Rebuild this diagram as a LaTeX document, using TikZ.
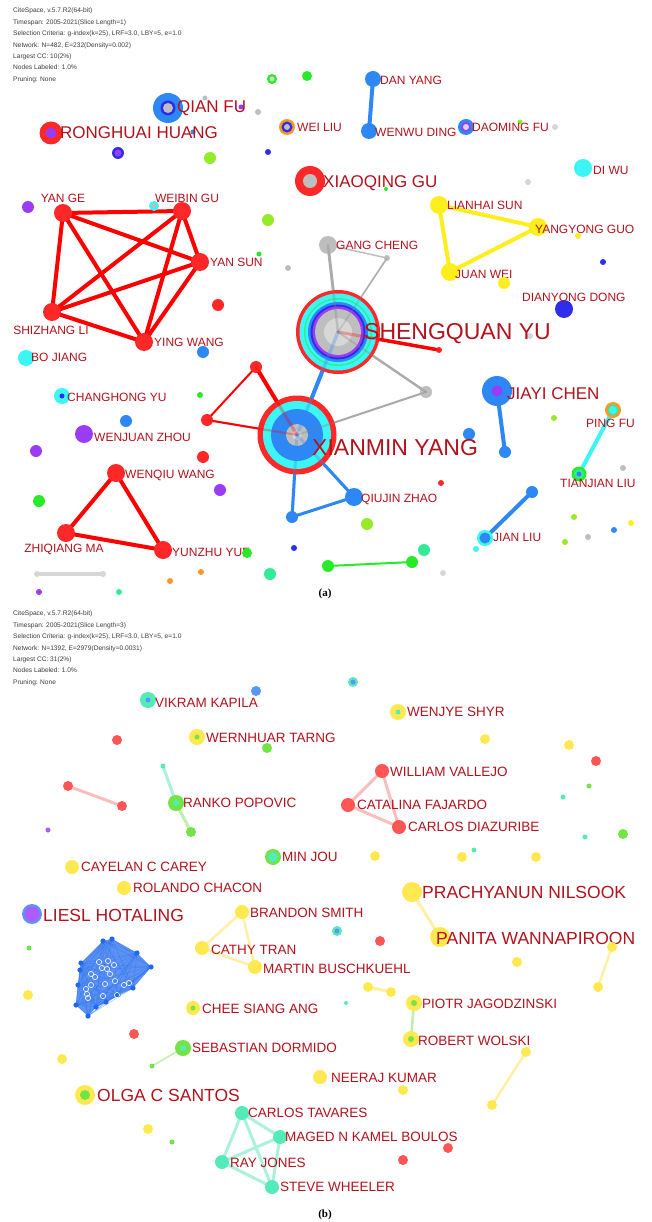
\documentclass[tikz,border=0pt]{standalone}
\usepackage{fontspec}
\setmainfont{Liberation Sans}
\newfontfamily\capfont{Liberation Serif}
\begin{document}
% palette: panel (a)
\definecolor{labC}{RGB}{178,18,28}
\definecolor{hdrC}{RGB}{60,60,60}
\definecolor{cR}{RGB}{255,40,40}
\definecolor{eR}{RGB}{255,0,0}
\definecolor{cB}{RGB}{45,135,245}
\definecolor{cDB}{RGB}{45,45,235}
\definecolor{cC}{RGB}{60,245,245}
\definecolor{cY}{RGB}{255,238,30}
\definecolor{cLG}{RGB}{150,235,40}
\definecolor{cG}{RGB}{40,235,40}
\definecolor{cT}{RGB}{50,235,150}
\definecolor{cP}{RGB}{155,60,245}
\definecolor{cGr}{RGB}{190,190,190}
\definecolor{cGl}{RGB}{215,215,215}
\definecolor{cO}{RGB}{255,150,40}
% palette: panel (b)
\definecolor{bY}{RGB}{255,232,80}
\definecolor{bT}{RGB}{85,235,185}
\definecolor{bR}{RGB}{255,85,85}
\definecolor{bG}{RGB}{115,228,70}
\definecolor{bB}{RGB}{90,150,250}
\definecolor{bP}{RGB}{175,90,250}
\definecolor{clB}{RGB}{30,105,240}
\definecolor{ePk}{RGB}{250,190,190}
\definecolor{eLY}{RGB}{255,240,165}
\definecolor{eLT}{RGB}{170,242,220}
\definecolor{eLG}{RGB}{190,240,170}
\pgfdeclarelayer{paper}
\pgfdeclarelayer{edges}
\pgfdeclarelayer{over}
\pgfsetlayers{paper,edges,main,over}
\begin{tikzpicture}[x=1pt,y=-1pt,
  nd/.style 2 args={circle, inner sep=0pt, outer sep=0pt, minimum size={2*#2pt}, fill=#1},
  lbl/.style={anchor=west, inner sep=0pt, text=labC, font=\fontsize{12}{12}\selectfont},
  lblM/.style={lbl, font=\fontsize{17}{17}\selectfont},
  lblL/.style={lbl, font=\fontsize{23}{23}\selectfont},
  lblb/.style={lbl, font=\fontsize{13.5}{13.5}\selectfont},
  lblbM/.style={lbl, font=\fontsize{17.5}{17.5}\selectfont},
  hdr/.style={anchor=north west, align=left, inner sep=0pt, text=hdrC, font=\fontsize{6.6}{11.4}\selectfont},
  capt/.style={inner sep=0pt, font=\capfont\bfseries\fontsize{11}{11}\selectfont},
  lnk/.style 2 args={draw=#1, line width=#2pt, line cap=round},
  ghost/.style 2 args={draw=#1, line width=#2pt, line cap=round, opacity=0.3}]
\useasboundingbox (0,0) rectangle (651,1222);
\begin{pgfonlayer}{paper}
  \fill[white] (0,0) rectangle (651,1222);
\end{pgfonlayer}

% ================= panel (a) =================
\node[hdr] (hdra) at (13,8) {CiteSpace, v.5.7.R2(64-bit)\\Timespan: 2005-2021(Slice Length=1)\\Selection Criteria: g-index(k=25), LRF=3.0, LBY=5, e=1.0\\Network: N=482, E=232(Density=0.002)\\Largest CC: 10(2\%)\\Nodes Labeled: 1.0\%\\Pruning: None};

\node[nd={cG}{5}] (a-gt1) at (272,79) {};
\fill[cGl] (a-gt1) circle (2.5pt);
\node[nd={cG}{5}] (a-gt2) at (307,76) {};
\node[nd={cB}{15}] (qianfu) at (168,108) {};
\fill[cDB] (qianfu) circle (7.5pt);
\fill[cGr] (qianfu) circle (5pt);
\node[nd={cGr}{2.5}] (a-g1) at (205,98) {};
\node[nd={cP}{2.5}] (a-p1) at (241,107) {};
\node[nd={cGr}{3}] (a-g2) at (258,112) {};
\node[lblM] (l-qianfu) at (177,108) {QIAN FU};
\node[nd={cR}{11.5}] (ronghuai) at (51,133) {};
\fill[cP] (ronghuai) circle (5.5pt);
\node[nd={cB}{2.5}] (a-b1) at (193,132) {};
\node[lblM] (l-ronghuai) at (60,133) {RONGHUAI HUANG};
\node[nd={cDB}{6}] (a-db1) at (118,153) {};
\fill[cP] (a-db1) circle (3.5pt);
\node[nd={cLG}{6}] (a-lg1) at (210,158) {};
\node[nd={cDB}{3}] (a-b2) at (268,152) {};
\node[nd={cO}{8}] (weiliu) at (287,127) {};
\fill[cDB] (weiliu) circle (5.5pt);
\fill[cGr] (weiliu) circle (3pt);
\node[lbl] (l-weiliu) at (297,127) {WEI LIU};
\node[nd={cR}{15}] (xiaoqing) at (310,181) {};
\fill[cGr] (xiaoqing) circle (7pt);
\node[nd={cG}{2}] (a-g6) at (386,189) {};
\node[lblM] (l-xiaoqing) at (323,183) {XIAOQING GU};
\node[nd={cB}{8}] (danyang) at (373,79) {};
\node[lbl] (l-danyang) at (380,80) {DAN YANG};
\node[nd={cB}{8}] (wenwu) at (369,131) {};
\node[lbl] (l-wenwu) at (375,132) {WENWU DING};
\node[nd={cB}{8}] (daoming) at (466,127) {};
\fill[cP] (daoming) circle (5pt);
\fill[cGl] (daoming) circle (3pt);
\node[nd={cLG}{2.5}] (a-g3) at (520,122) {};
\node[nd={cGl}{3}] (a-g4) at (555,127) {};
\node[lbl] (l-daoming) at (472,127) {DAOMING FU};
\node[nd={cC}{9}] (diwu) at (583,168) {};
\node[lbl] (l-diwu) at (593,170) {DI WU};
\node[nd={cGl}{3}] (a-g5) at (528,182) {};
\node[nd={cY}{9}] (lianhai) at (439,205) {};
\node[lbl] (l-lianhai) at (447,205) {LIANHAI SUN};
\node[nd={cY}{9}] (yangyong) at (538,227) {};
\node[nd={cY}{3}] (a-y1) at (578,236) {};
\node[lbl] (l-yangyong) at (535,229) {YANGYONG GUO};
\node[nd={cY}{9}] (juanwei) at (450,272) {};
\node[lbl] (l-juanwei) at (455,274) {JUAN WEI};
\node[nd={cY}{6}] (a-y2) at (504,283) {};
\node[nd={cDB}{3}] (a-db2) at (603,262) {};
\node[nd={cDB}{9}] (dianyong) at (564,309) {};
\node[lbl] (l-dianyong) at (522,297) {DIANYONG DONG};
\node[nd={cGr}{9}] (gangcheng) at (328,245) {};
\node[lbl] (l-gangcheng) at (336,245) {GANG CHENG};
\node[nd={cGr}{3}] (a-g7) at (387,258) {};

\node[nd={cR}{9}] (yange) at (63,213) {};
\node[lbl, anchor=center] (l-yange) at (63,198) {YAN GE};
\node[nd={cP}{6}] (a-p2) at (28,207) {};
\node[nd={cR}{9}] (weibin) at (182,211) {};
\node[nd={cC}{5}] (a-c1) at (154,206) {};
\fill[cGr] (a-c1) circle (2.5pt);
\node[lbl, anchor=center] (l-weibin) at (187,198) {WEIBIN GU};
\node[nd={cR}{9}] (yansun) at (200,262) {};
\node[lbl] (l-yansun) at (210,262) {YAN SUN};
\node[nd={cG}{2.5}] (a-g8) at (259,254) {};
\node[nd={cGr}{3}] (a-g9) at (288,268) {};
\node[nd={cLG}{6}] (a-lg2) at (268,220) {};
\node[nd={cR}{6}] (a-r1) at (218,305) {};
\node[nd={cR}{9}] (shizhang) at (52,312) {};
\node[lbl, anchor=center] (l-shizhang) at (51,330) {SHIZHANG LI};
\node[nd={cR}{9}] (yingwang) at (144,342) {};
\node[lbl] (l-yingwang) at (154,342) {YING WANG};
\node[nd={cC}{8}] (bojiang) at (26,358) {};
\node[lbl] (l-bojiang) at (31,357) {BO JIANG};
\node[nd={cB}{6}] (a-b3) at (203,352) {};
\node[nd={cR}{6}] (a-r2) at (256,367) {};

% the two largest nodes with their rings
\node[nd={cR}{42}] (shengquan) at (338,332) {};
\fill[cC] (shengquan) circle (38.5pt);
\fill[cT] (shengquan) circle (34pt);
\fill[cC] (shengquan) circle (32.5pt);
\fill[cB] (shengquan) circle (30pt);
\fill[cDB] (shengquan) circle (27.5pt);
\fill[cP] (shengquan) circle (25.5pt);
\fill[cGr] (shengquan) circle (23pt);
\fill[cGl] (shengquan) circle (14pt);
\node[nd={cR}{3}] (a-r3) at (439,350) {};
\node[nd={cGl}{3}] (a-g10) at (530,336) {};

\node[nd={cC}{8}] (changhong) at (62,396) {};
\fill[cDB] (changhong) circle (2.5pt);
\node[lbl] (l-changhong) at (67,397) {CHANGHONG YU};
\node[nd={cG}{3}] (a-g11) at (200,395) {};
\node[nd={cB}{6}] (a-b4) at (126,421) {};
\node[nd={cR}{6}] (a-r4) at (207,420) {};

\node[nd={cR}{39.5}] (xianmin) at (297,435) {};
\fill[cC] (xianmin) circle (34pt);
\fill[cB] (xianmin) circle (26pt);
\fill[cGr] (xianmin) circle (11pt);
\fill[cGl] (xianmin) circle (5pt);

\node[nd={cGr}{6}] (a-g12) at (426,392) {};
\node[nd={cB}{15}] (jiayi) at (497,391) {};
\fill[cP] (jiayi) circle (5.5pt);
\node[lblM] (l-jiayi) at (507,394) {JIAYI CHEN};
\node[nd={cB}{6}] (a-b5) at (505,452) {};
\node[nd={cB}{6}] (a-b6) at (469,434) {};
\node[nd={cLG}{3}] (a-lg3) at (554,418) {};
\node[nd={cO}{8}] (pingfu) at (613,410) {};
\fill[cT] (pingfu) circle (5.5pt);
\fill[cC] (pingfu) circle (4pt);
\node[lbl] (l-pingfu) at (586,423) {PING FU};
\node[nd={cG}{7.5}] (tianjian) at (579,474) {};
\fill[cT] (tianjian) circle (5pt);
\fill[cB] (tianjian) circle (2.5pt);
\node[lbl] (l-tianjian) at (560,483) {TIANJIAN LIU};
\node[nd={cGr}{3}] (a-g13) at (623,468) {};
\node[nd={cR}{3}] (a-r5) at (441,483) {};
\node[nd={cP}{9}] (wenjuan) at (84,434) {};
\node[lbl] (l-wenjuan) at (94,437) {WENJUAN ZHOU};
\node[nd={cP}{6}] (a-p3) at (36,451) {};
\node[nd={cR}{6}] (a-r6) at (203,457) {};
\node[nd={cR}{9}] (wenqiu) at (116,473) {};
\node[lbl] (l-wenqiu) at (125,475) {WENQIU WANG};
\node[nd={cP}{6}] (a-p4) at (220,490) {};
\node[nd={cG}{6}] (a-g14) at (39,501) {};
\node[nd={cB}{6}] (a-b7) at (292,517) {};
\node[nd={cB}{9}] (qiujin) at (354,497) {};
\node[lbl] (l-qiujin) at (361,499) {QIUJIN ZHAO};
\node[nd={cLG}{6}] (a-lg4) at (367,524) {};
\node[nd={cB}{6}] (a-b8) at (532,492) {};
\node[nd={cC}{3}] (a-c2) at (476,549) {};
\node[nd={cC}{8}] (jianliu) at (485,538) {};
\fill[cB] (jianliu) circle (5.5pt);
\node[lbl] (l-jianliu) at (493,537) {JIAN LIU};
\node[nd={cLG}{3}] (a-lg5) at (574,517) {};
\node[nd={cLG}{3}] (a-lg6) at (565,542) {};
\node[nd={cGr}{3}] (a-g15) at (588,537) {};
\node[nd={cB}{3}] (a-b9) at (614,530) {};
\node[nd={cY}{3}] (a-y3) at (631,523) {};
\node[nd={cR}{9}] (zhiqiang) at (66,533) {};
\node[lbl, anchor=center] (l-zhiqiang) at (64,549) {ZHIQIANG MA};
\node[nd={cR}{9}] (yunzhu) at (163,550) {};
\node[lbl] (l-yunzhu) at (172,552) {YUNZHU YUE};
\node[nd={cG}{5}] (a-g16) at (247,553) {};
\node[nd={cDB}{3}] (a-db3) at (294,548) {};
\node[nd={cT}{6}] (a-t1) at (424,550) {};
\node[nd={cG}{6}] (a-g17) at (412,562) {};
\node[nd={cG}{6}] (a-g18) at (328,566) {};
\node[nd={cGl}{3}] (a-g19) at (443,573) {};
\node[nd={cGl}{3}] (a-bar1) at (37,574) {};
\node[nd={cGl}{3}] (a-bar2) at (103,574) {};
\node[nd={cO}{3}] (a-o1) at (201,572) {};
\node[nd={cO}{3}] (a-o2) at (170,581) {};
\node[nd={cT}{6}] (a-t2) at (270,574) {};
\node[nd={cP}{3}] (a-p5) at (39,592) {};
\node[nd={cT}{3}] (a-t3) at (119,592) {};

\node[capt] (capa) at (325,594) {(a)};

\begin{pgfonlayer}{edges}
  % five-author clique
  \draw[lnk={eR}{4}] (yange.center) -- (weibin.center);
  \draw[lnk={eR}{4}] (yange.center) -- (yansun.center);
  \draw[lnk={eR}{4}] (yange.center) -- (shizhang.center);
  \draw[lnk={eR}{4}] (yange.center) -- (yingwang.center);
  \draw[lnk={eR}{4}] (weibin.center) -- (yansun.center);
  \draw[lnk={eR}{4}] (weibin.center) -- (shizhang.center);
  \draw[lnk={eR}{4}] (weibin.center) -- (yingwang.center);
  \draw[lnk={eR}{4}] (yansun.center) -- (shizhang.center);
  \draw[lnk={eR}{4}] (yansun.center) -- (yingwang.center);
  \draw[lnk={eR}{4}] (shizhang.center) -- (yingwang.center);
  % triangles
  \draw[lnk={eR}{4}] (wenqiu.center) -- (zhiqiang.center) -- (yunzhu.center) -- cycle;
  \draw[lnk={cY}{4}] (lianhai.center) -- (yangyong.center) -- (juanwei.center) -- cycle;
  \draw[lnk={cB}{4}] (danyang.center) -- (wenwu.center);
  % around the two hubs
  \draw[lnk={cGr}{3}] (gangcheng.center) -- (shengquan.center);
  \draw[lnk={cGr}{1.5}] (gangcheng.center) -- (a-g7.center) -- (shengquan.center);
  \draw[lnk={eR}{3.5}] (shengquan.center) -- (a-r3.center);
  \draw[lnk={cB}{4}] (shengquan.center) -- (xianmin.center);
  \draw[lnk={cGr}{2.5}] (shengquan.center) -- (a-g12.center);
  \draw[lnk={cGr}{2}] (xianmin.center) -- (a-g12.center);
  \draw[lnk={eR}{4}] (xianmin.center) -- (a-r2.center);
  \draw[lnk={eR}{2}] (a-r2.center) -- (a-r4.center) -- (xianmin.center);
  \draw[lnk={cB}{3}] (xianmin.center) -- (a-b7.center) -- (qiujin.center);
  \draw[lnk={cB}{3}] (xianmin.center) -- (qiujin.center);
  \draw[lnk={cB}{4}] (jiayi.center) -- (a-b5.center);
  \draw[lnk={cC}{4}] (pingfu.center) -- (tianjian.center);
  \draw[lnk={cB}{4}] (a-b8.center) -- (jianliu.center);
  \draw[lnk={cG}{2}] (a-g18.center) -- (a-g17.center);
  \draw[lnk={cGl}{4}] (a-bar1.center) -- (a-bar2.center);
\end{pgfonlayer}
% hub links faintly visible through the translucent hub discs
\begin{pgfonlayer}{over}
  \draw[ghost={gray}{2.5}] (gangcheng.center) -- (shengquan.center);
  \draw[ghost={gray}{1.5}] (a-g7.center) -- (shengquan.center);
  \draw[ghost={eR}{3}] (shengquan.center) -- (a-r3.center);
  \draw[ghost={cB}{3.5}] (shengquan.center) -- (xianmin.center);
  \draw[ghost={gray}{2}] (shengquan.center) -- (a-g12.center);
  \draw[ghost={gray}{2}] (xianmin.center) -- (a-g12.center);
  \draw[ghost={eR}{3}] (xianmin.center) -- (a-r2.center);
  \draw[ghost={eR}{2}] (a-r4.center) -- (xianmin.center);
  \draw[ghost={cB}{3}] (xianmin.center) -- (a-b7.center);
  \draw[ghost={cB}{3}] (xianmin.center) -- (qiujin.center);
  \node[lblL] (l-shengquan) at (364,334) {SHENGQUAN YU};
  \node[lblL] (l-xianmin) at (312,448) {XIANMIN YANG};
\end{pgfonlayer}

% ================= panel (b) =================
\node[hdr] (hdrb) at (13,611) {CiteSpace, v.5.7.R2(64-bit)\\Timespan: 2005-2021(Slice Length=3)\\Selection Criteria: g-index(k=25), LRF=3.0, LBY=5, e=1.0\\Network: N=1392, E=2979(Density=0.0031)\\Largest CC: 31(2\%)\\Nodes Labeled: 1.0\%\\Pruning: None};

\node[nd={bT}{8}] (vikram) at (148,700) {};
\fill[bB] (vikram) circle (2.5pt);
\node[lblb] (l-vikram) at (155,703) {VIKRAM KAPILA};
\node[nd={bB}{5}] (b-b1) at (256,691) {};
\node[nd={bT}{5}] (b-t1) at (353,682) {};
\fill[bB] (b-t1) circle (2.5pt);
\node[nd={bY}{8}] (wenjye) at (398,712) {};
\fill[bT] (wenjye) circle (2.5pt);
\node[lblb] (l-wenjye) at (407,712) {WENJYE SHYR};
\node[nd={bR}{5}] (b-r1) at (117,740) {};
\node[nd={bY}{8}] (wernhuar) at (197,737) {};
\fill[bG] (wernhuar) circle (2.5pt);
\node[lblb] (l-wernhuar) at (206,738) {WERNHUAR TARNG};
\node[nd={bG}{5}] (b-g1) at (267,748) {};
\node[nd={bY}{5}] (b-y1) at (485,739) {};
\node[nd={bY}{5}] (b-y2) at (569,745) {};
\node[nd={bR}{5}] (b-r2) at (596,761) {};
\node[nd={bT}{2.5}] (b-t2) at (163,766) {};
\node[nd={bG}{8}] (ranko) at (176,803) {};
\fill[bT] (ranko) circle (3pt);
\node[lblb] (l-ranko) at (183,803) {RANKO POPOVIC};
\node[nd={bG}{5}] (b-g2) at (191,832) {};
\node[nd={bR}{5}] (b-r3) at (68,786) {};
\node[nd={bR}{5}] (b-r4) at (122,806) {};
\node[nd={bP}{2.5}] (b-p1) at (48,830) {};
\node[nd={bR}{7}] (william) at (382,771) {};
\node[lblb] (l-william) at (390,772) {WILLIAM VALLEJO};
\node[nd={bR}{7}] (catalina) at (348,805) {};
\node[lblb] (l-catalina) at (357,805) {CATALINA FAJARDO};
\node[nd={bR}{7}] (carlosd) at (399,827) {};
\node[lblb] (l-carlosd) at (408,827) {CARLOS DIAZURIBE};
\node[nd={bG}{2.5}] (b-g3) at (589,786) {};
\node[nd={bT}{2.5}] (b-t3) at (563,797) {};
\node[nd={bT}{2.5}] (b-t4) at (585,837) {};
\node[nd={bG}{5}] (b-g4) at (623,834) {};
\node[nd={bG}{8}] (minjou) at (273,857) {};
\fill[bT] (minjou) circle (5pt);
\node[lblb] (l-minjou) at (282,857) {MIN JOU};
\node[nd={bY}{5}] (b-y3) at (375,856) {};
\node[nd={bY}{5}] (b-y4) at (462,857) {};
\node[nd={bT}{2.5}] (b-t5) at (474,850) {};
\node[nd={bY}{5}] (b-y5) at (536,857) {};
\node[nd={bY}{7}] (cayelan) at (72,867) {};
\node[lblb] (l-cayelan) at (81,867) {CAYELAN C CAREY};
\node[nd={bY}{7}] (rolando) at (124,888) {};
\node[lblb] (l-rolando) at (133,888) {ROLANDO CHACON};
\node[nd={bY}{10}] (prach) at (412,892) {};
\node[lblbM] (l-prach) at (422,892) {PRACHYANUN NILSOOK};
\node[nd={bB}{10}] (liesl) at (32,914) {};
\fill[bP] (liesl) circle (7.5pt);
\node[lblbM] (l-liesl) at (43,915) {LIESL HOTALING};
\node[nd={bY}{7}] (brandon) at (242,912) {};
\node[lblb] (l-brandon) at (250,913) {BRANDON SMITH};
\node[nd={bT}{5}] (b-t6) at (337,931) {};
\fill[bB] (b-t6) circle (2.5pt);
\node[nd={bR}{5}] (b-r5) at (380,941) {};
\node[nd={bY}{10}] (panita) at (440,937) {};
\node[lblbM] (l-panita) at (436,938) {PANITA WANNAPIROON};
\node[nd={bY}{5}] (b-y6) at (612,947) {};
\node[nd={bY}{5}] (b-y7) at (598,987) {};
\node[nd={bY}{5}] (b-y8) at (517,962) {};
\node[nd={bY}{7}] (cathy) at (202,948) {};
\node[lblb] (l-cathy) at (211,950) {CATHY TRAN};
\node[nd={bY}{7}] (martin) at (255,967) {};
\node[lblb] (l-martin) at (263,969) {MARTIN BUSCHKUEHL};
\node[nd={bY}{5}] (b-y9) at (368,987) {};
\node[nd={bY}{5}] (b-y10) at (391,992) {};
\node[nd={bT}{2}] (b-t7) at (346,1003) {};
\node[nd={bG}{2.5}] (b-g5) at (29,948) {};
\node[nd={bY}{5}] (b-y11) at (28,995) {};

% dense co-author block
\foreach \i/\x/\y in {1/103/941, 2/112/939, 3/137/953, 4/151/967, 5/133/988, 6/118/995, 7/106/1002, 8/96/1007, 9/88/1016, 10/76/1005, 11/78/985, 12/80/970, 13/81/963}
  \node[nd={clB}{2.6}] (c\i) at (\x,\y) {};
\begin{pgfonlayer}{edges}
  \fill[clB, opacity=0.72] (c1.center) \foreach \i in {2,...,13}{ -- (c\i.center)} -- cycle;
  \foreach \i in {1,...,13}
    \foreach \j in {1,...,13}
      \draw[clB, opacity=0.25, line width=0.3pt] (c\i.center) -- (c\j.center);
\end{pgfonlayer}
\foreach \i/\x/\y in {1/99/962, 2/108/961, 3/114/965, 4/102/968, 5/107/969, 6/110/974, 7/91/974, 8/95/977, 9/105/984, 10/115/981, 11/124/985, 12/129/983, 13/91/985, 14/86/989, 15/87/994, 16/88/998, 17/103/996, 18/117/995}
  \node[circle, draw=white, line width=0.6pt, inner sep=0pt, minimum size=5.2pt] (w\i) at (\x,\y) {};

\node[nd={bY}{7}] (chee) at (193,1008) {};
\fill[bG] (chee) circle (2.5pt);
\node[lblb] (l-chee) at (202,1009) {CHEE SIANG ANG};
\node[nd={bY}{8}] (piotr) at (414,1003) {};
\fill[bG] (piotr) circle (3pt);
\node[lblb] (l-piotr) at (422,1004) {PIOTR JAGODZINSKI};
\node[nd={bY}{8}] (robert) at (411,1039) {};
\fill[bG] (robert) circle (3pt);
\node[lblb] (l-robert) at (418,1041) {ROBERT WOLSKI};
\node[nd={bR}{5}] (b-r6) at (134,1034) {};
\node[nd={bG}{8}] (sebastian) at (183,1048) {};
\fill[bT] (sebastian) circle (3pt);
\node[lblb] (l-sebastian) at (192,1048) {SEBASTIAN DORMIDO};
\node[nd={bG}{2.5}] (b-g6) at (152,1066) {};
\node[nd={bY}{5}] (b-y12) at (62,1059) {};
\node[nd={bY}{5}] (b-y13) at (526,1052) {};
\node[nd={bY}{5}] (b-y14) at (492,1105) {};
\node[nd={bY}{7}] (neeraj) at (320,1077) {};
\node[lblb] (l-neeraj) at (331,1078) {NEERAJ KUMAR};
\node[nd={bY}{5}] (b-y15) at (403,1090) {};
\node[nd={bY}{10}] (olga) at (85,1095) {};
\fill[bG] (olga) circle (5pt);
\node[lblbM] (l-olga) at (97,1095) {OLGA C SANTOS};
\node[nd={bY}{5}] (b-y16) at (148,1129) {};
\node[nd={bG}{2.5}] (b-g7) at (172,1142) {};
\node[nd={bT}{7}] (carlost) at (242,1113) {};
\node[lblb] (l-carlost) at (248,1113) {CARLOS TAVARES};
\node[nd={bT}{7}] (maged) at (280,1137) {};
\node[lblb] (l-maged) at (285,1137) {MAGED N KAMEL BOULOS};
\node[nd={bT}{7}] (rayjones) at (222,1162) {};
\node[lblb] (l-rayjones) at (230,1163) {RAY JONES};
\node[nd={bT}{7}] (steve) at (272,1187) {};
\node[lblb] (l-steve) at (280,1187) {STEVE WHEELER};
\node[nd={bR}{5}] (b-r7) at (448,1148) {};
\node[nd={bR}{5}] (b-r8) at (403,1160) {};
\node[capt] (capb) at (325,1215) {(b)};

\begin{pgfonlayer}{edges}
  \draw[lnk={ePk}{3}] (b-r3.center) -- (b-r4.center);
  \draw[lnk={eLT}{3}] (b-t2.center) -- (ranko.center);
  \draw[lnk={eLG}{3}] (ranko.center) -- (b-g2.center);
  \draw[lnk={ePk}{3}] (catalina.center) -- (william.center) -- (carlosd.center) -- cycle;
  \draw[lnk={eLY}{3}] (prach.center) -- (panita.center);
  \draw[lnk={eLY}{2.5}] (brandon.center) -- (cathy.center) -- (martin.center) -- cycle;
  \draw[lnk={eLY}{2.5}] (b-y6.center) -- (b-y7.center);
  \draw[lnk={eLY}{3}] (b-y9.center) -- (b-y10.center);
  \draw[lnk={eLG}{2.5}] (piotr.center) -- (robert.center);
  \draw[lnk={eLY}{2.5}] (b-y13.center) -- (b-y14.center);
  \draw[lnk={eLG}{1.5}] (sebastian.center) -- (b-g6.center);
  \draw[lnk={eLT}{3}] (carlost.center) -- (maged.center);
  \draw[lnk={eLT}{3}] (carlost.center) -- (rayjones.center);
  \draw[lnk={eLT}{3}] (carlost.center) -- (steve.center);
  \draw[lnk={eLT}{3}] (maged.center) -- (rayjones.center);
  \draw[lnk={eLT}{3}] (maged.center) -- (steve.center);
  \draw[lnk={eLT}{3}] (rayjones.center) -- (steve.center);
\end{pgfonlayer}
\end{tikzpicture}
\end{document}
